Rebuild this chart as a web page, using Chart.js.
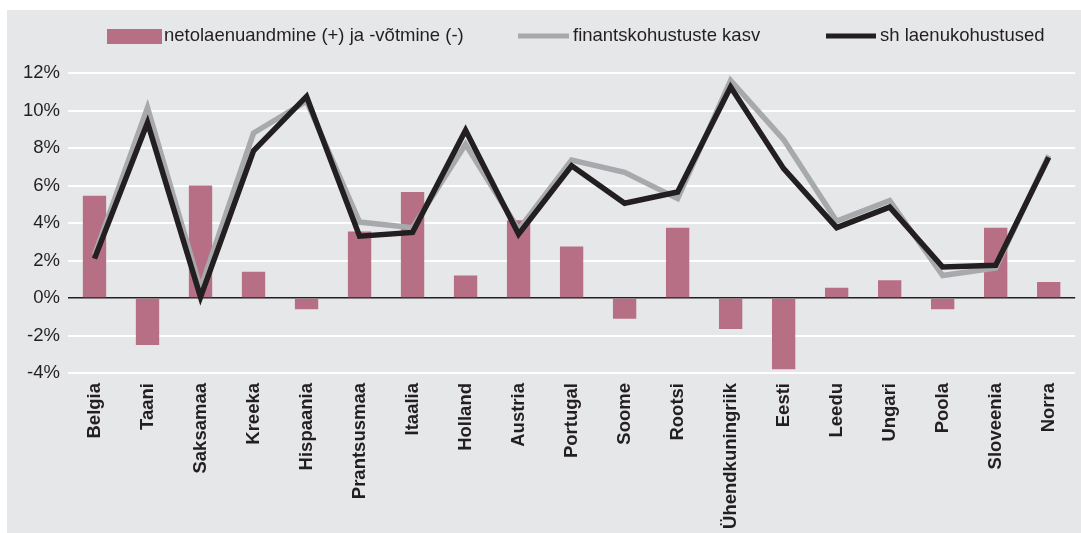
<!DOCTYPE html>
<html>
<head>
<meta charset="utf-8">
<script src="https://cdn.jsdelivr.net/npm/chart.js@4/dist/chart.umd.min.js"></script>
<style>
  html, body { margin: 0; padding: 0; background: #fff; }
  #chart { position: absolute; left: 7px; top: 10px; background: #e6e7e8; }
</style>
</head>
<body>
<canvas id="chart" width="1074" height="523"></canvas>
<script>
const categories = ['Belgia', 'Taani', 'Saksamaa', 'Kreeka', 'Hispaania', 'Prantsusmaa', 'Itaalia',
  'Holland', 'Austria', 'Portugal', 'Soome', 'Rootsi', 'Ühendkuningriik', 'Eesti', 'Leedu',
  'Ungari', 'Poola', 'Sloveenia', 'Norra'];

// netolaenuandmine (+) ja -võtmine (-)
const netLending = [5.45, -2.5, 6.0, 1.4, -0.6, 3.55, 5.65, 1.2, 4.15, 2.75, -1.1, 3.75, -1.65, -3.8, 0.55, 0.95, -0.6, 3.75, 0.85];
// finantskohustuste kasv
const finLiabilities = [2.3, 10.15, 0.5, 8.8, 10.5, 4.05, 3.75, 8.2, 3.65, 7.35, 6.7, 5.3, 11.6, 8.45, 4.1, 5.2, 1.2, 1.6, 7.6];
// sh laenukohustused
const loanLiabilities = [2.1, 9.35, 0.05, 7.85, 10.75, 3.3, 3.5, 8.95, 3.4, 7.05, 5.05, 5.65, 11.25, 6.9, 3.75, 4.85, 1.65, 1.75, 7.5];

const yTicks = [-4, -2, 0, 2, 4, 6, 8, 10, 12];

const seriesNames = ['netolaenuandmine (+) ja -võtmine (-)', 'finantskohustuste kasv', 'sh laenukohustused'];

const TEXT = '#231f20';
const PINK = '#b66f84';
const GREY = '#a7a9ac';
const FONT = '"Liberation Sans", Arial, sans-serif';

// legend drawn by hand to match the wide spacing of the original
const legendPlugin = {
  id: 'customLegend',
  afterDraw(chart) {
    const ctx = chart.ctx;
    const y = 26;
    ctx.save();
    ctx.font = '18.5px ' + FONT;
    ctx.textBaseline = 'middle';

    ctx.fillStyle = PINK;
    ctx.fillRect(100, 19, 55, 15);
    ctx.fillStyle = TEXT;
    ctx.fillText(seriesNames[0], 157, y);

    ctx.lineWidth = 5;
    ctx.strokeStyle = GREY;
    ctx.beginPath(); ctx.moveTo(511, y); ctx.lineTo(562, y); ctx.stroke();
    ctx.fillText(seriesNames[1], 566, y);

    ctx.strokeStyle = TEXT;
    ctx.beginPath(); ctx.moveTo(819, y); ctx.lineTo(869, y); ctx.stroke();
    ctx.fillText(seriesNames[2], 873, y);
    ctx.restore();
  },
};

new Chart(document.getElementById('chart'), {
  type: 'bar',
  data: {
    labels: categories,
    datasets: [
      {
        label: seriesNames[0],
        data: netLending,
        backgroundColor: PINK,
        barPercentage: 0.44,
        categoryPercentage: 1,
        order: 3,
      },
      {
        type: 'line',
        label: seriesNames[1],
        data: finLiabilities,
        borderColor: GREY,
        borderWidth: 5.5,
        borderJoinStyle: 'miter',
        tension: 0,
        pointRadius: 0,
        order: 2,
      },
      {
        type: 'line',
        label: seriesNames[2],
        data: loanLiabilities,
        borderColor: TEXT,
        borderWidth: 5.5,
        borderJoinStyle: 'miter',
        tension: 0,
        pointRadius: 0,
        order: 1,
      },
    ],
  },
  options: {
    responsive: false,
    animation: false,
    layout: { padding: { top: 63, right: 4, left: 0, bottom: 0 } },
    plugins: {
      legend: { display: false },
      tooltip: { enabled: false },
    },
    scales: {
      x: {
        offset: true,
        border: { display: false },
        grid: { display: false, drawTicks: false },
        ticks: {
          minRotation: 90,
          maxRotation: 90,
          autoSkip: false,
          padding: 10,
          color: TEXT,
          font: { family: FONT, size: 18.5, weight: 'bold' },
        },
        afterFit: scale => { scale.height = 160; },
      },
      y: {
        min: yTicks[0],
        max: yTicks[yTicks.length - 1],
        border: { display: false },
        grid: {
          drawTicks: false,
          color: c => (c.tick && c.tick.value === 0 ? TEXT : '#ffffff'),
          lineWidth: c => (c.tick && c.tick.value === 0 ? 1.5 : 2),
        },
        afterBuildTicks: scale => { scale.ticks = yTicks.map(v => ({ value: v })); },
        ticks: {
          padding: 8,
          color: TEXT,
          font: { family: FONT, size: 18.5 },
          callback: v => v + '%',
        },
        afterFit: scale => { scale.width = 61; },
      },
    },
  },
  plugins: [legendPlugin],
});
</script>
</body>
</html>
